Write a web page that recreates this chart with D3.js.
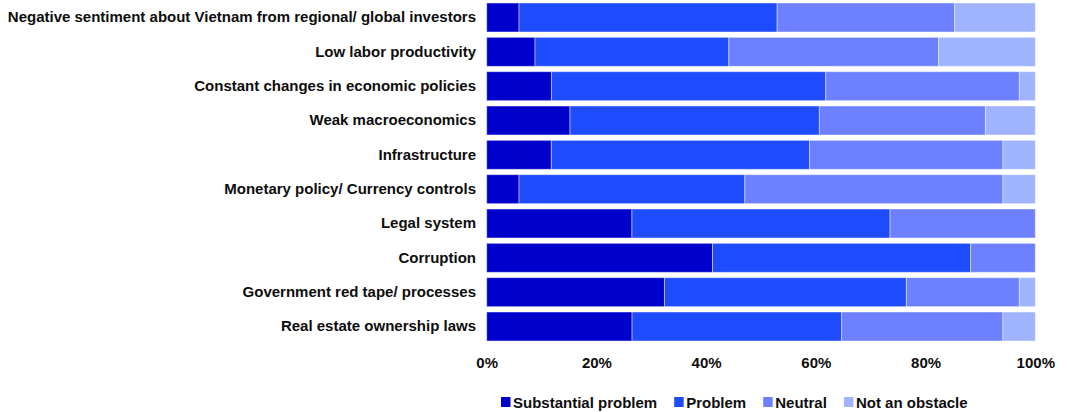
<!DOCTYPE html>
<html>
<head>
<meta charset="utf-8">
<script src="https://cdn.jsdelivr.net/npm/d3@7"></script>
<style>
  html, body { margin: 0; padding: 0; background: #fff; }
  svg { display: block; }
  text { font-family: "Liberation Sans", Arial, sans-serif; font-weight: bold; fill: #0d0d0d; }
</style>
</head>
<body>
<svg id="chart" width="1067" height="412"></svg>
<script>
// Obstacles to investing, share of respondents (%) per rating
const categories = [
  "Negative sentiment about Vietnam from regional/ global investors",
  "Low labor productivity",
  "Constant changes in economic policies",
  "Weak macroeconomics",
  "Infrastructure",
  "Monetary policy/ Currency controls",
  "Legal system",
  "Corruption",
  "Government red tape/ processes",
  "Real estate ownership laws"
];
const substantialProblem = [5.9, 8.8, 11.8, 15.2, 11.8, 5.9, 26.5, 41.2, 32.4, 26.5];
const problem            = [47.1, 35.3, 50.0, 45.5, 47.1, 41.2, 47.1, 47.1, 44.1, 38.2];
const neutral            = [32.4, 38.2, 35.3, 30.3, 35.3, 47.1, 26.5, 11.8, 20.6, 29.4];
const notAnObstacle      = [14.7, 17.6, 2.9, 9.1, 5.9, 5.9, 0, 0, 2.9, 5.9];

const seriesNames = ["Substantial problem", "Problem", "Neutral", "Not an obstacle"];
const seriesColors = ["#0000cc", "#1f4bff", "#6d80ff", "#9fb3ff"];
const tickValues = [0, 0.2, 0.4, 0.6, 0.8, 1.0];

const rows = categories.map((c, i) => ({
  category: c,
  "Substantial problem": substantialProblem[i],
  "Problem": problem[i],
  "Neutral": neutral[i],
  "Not an obstacle": notAnObstacle[i]
}));

const stacked = d3.stack()
  .keys(seriesNames)
  .offset(d3.stackOffsetExpand)(rows);

const svg = d3.select("#chart");

const x = d3.scaleLinear().domain([0, 1]).range([486.7, 1035.3]);
const y = d3.scaleBand()
  .domain(categories)
  .range([0.33, 343.67])
  .paddingInner(0.155)
  .paddingOuter(0.0775);

const color = d3.scaleOrdinal().domain(seriesNames).range(seriesColors);

// stacked bars
svg.append("g")
  .selectAll("g")
  .data(stacked)
  .join("g")
    .attr("fill", d => color(d.key))
  .selectAll("rect")
  .data(d => d)
  .join("rect")
    .attr("x", d => x(d[0]))
    .attr("y", d => y(d.data.category))
    .attr("width", d => Math.max(0, x(d[1]) - x(d[0])))
    .attr("height", y.bandwidth())
    .attr("stroke", "rgba(255,255,255,0.45)")
    .attr("stroke-width", 1);

// category labels
svg.append("g")
  .selectAll("text")
  .data(categories)
  .join("text")
    .attr("x", 476)
    .attr("y", d => y(d) + y.bandwidth() / 2)
    .attr("dy", "0.33em")
    .attr("text-anchor", "end")
    .attr("font-size", 15)
    .text(d => d);

// x axis tick labels
const xAxis = svg.append("g")
  .attr("transform", "translate(0,355)")
  .call(d3.axisBottom(x).tickValues(tickValues).tickFormat(d3.format(".0%")).tickSize(0).tickPadding(0));
xAxis.select(".domain").remove();
xAxis.selectAll("text")
  .attr("font-size", 15)
  .attr("dy", null)
  .attr("y", 13.3)
  .attr("fill", "#0d0d0d")
  .style("font-family", "\"Liberation Sans\", Arial, sans-serif")
  .style("font-weight", "bold");

// legend
const legend = svg.append("g");
let lx = 501;
seriesNames.forEach(name => {
  const item = legend.append("g");
  item.append("rect")
    .attr("x", lx).attr("y", 397)
    .attr("width", 9.5).attr("height", 10)
    .attr("fill", color(name));
  const t = item.append("text")
    .attr("x", lx + 12)
    .attr("y", 408)
    .attr("font-size", 15)
    .text(name);
  lx += 12 + t.node().getComputedTextLength() + 17;
});
</script>
</body>
</html>
